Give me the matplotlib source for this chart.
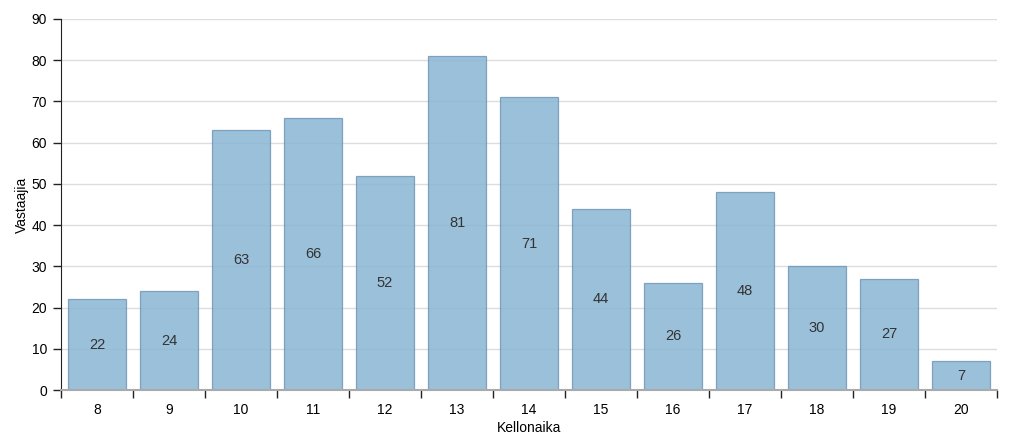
import matplotlib
matplotlib.use("Agg")
import matplotlib.pyplot as plt
import numpy as np

hours = ["8", "9", "10", "11", "12", "13", "14", "15", "16", "17", "18", "19", "20"]
counts = [22, 24, 63, 66, 52, 81, 71, 44, 26, 48, 30, 27, 7]

plt.rcParams['font.family'] = ['Liberation Sans', 'DejaVu Sans']

fig = plt.figure(figsize=(10.35, 4.43), dpi=100)
ax = fig.add_axes([61/1035, 53/443, 936/1035, 371/443])

x = np.arange(len(hours))
ax.set_axisbelow(True)
ax.yaxis.grid(True, color='#dddddd', linewidth=1)
bars = ax.bar(x, counts, width=0.8, color='#89b5d4', alpha=0.85,
              edgecolor='#6f97b6', linewidth=0.9, zorder=2)
for xi, v in zip(x, counts):
    ax.text(xi, v / 2, str(v), ha='center', va='center', fontsize=10.5, color='#333333', zorder=3)

ax.set_xlim(-0.5, len(hours) - 0.5)
ax.set_ylim(0, 90)
ax.set_yticks(range(0, 91, 10))
ax.set_xticks(x)
ax.set_xticklabels(hours)
ax.set_xticks(np.arange(-0.5, len(hours), 1), minor=True)
ax.tick_params(axis='x', which='major', length=0, pad=9, labelsize=10)
ax.tick_params(axis='x', which='minor', length=6, width=1, color='#222222')
ax.tick_params(axis='y', length=6, width=1, labelsize=10, color='#222222', pad=4)

for s in ['top', 'right']:
    ax.spines[s].set_visible(False)
ax.spines['left'].set_color('#222222')
ax.spines['bottom'].set_color('#aaaaaa')
ax.spines['bottom'].set_linewidth(1.5)

ax.set_ylabel('Vastaajia', fontsize=10, labelpad=2)
ax.set_xlabel('Kellonaika', fontsize=10, labelpad=3)

fig.savefig('out.png', dpi=100)
